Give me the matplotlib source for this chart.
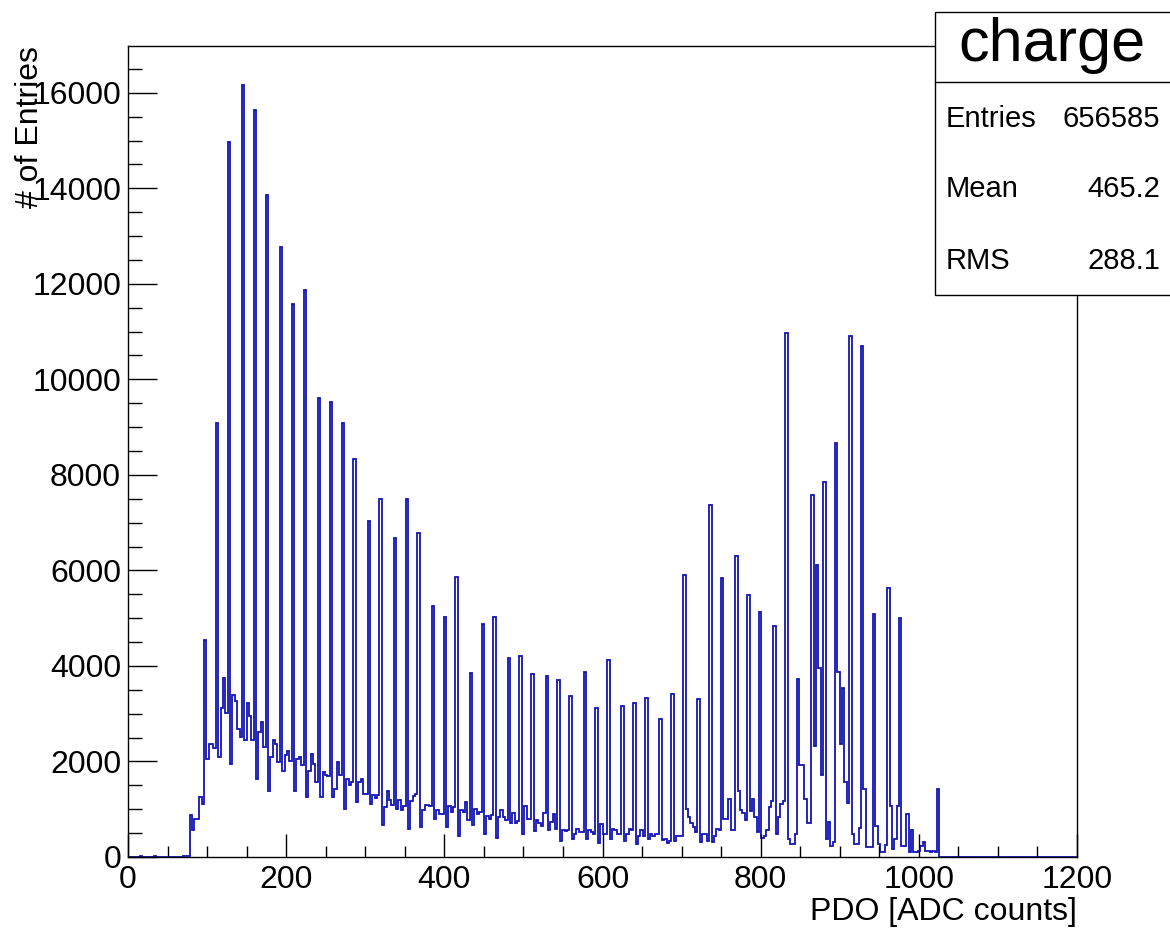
import numpy as np
import matplotlib
matplotlib.use('Agg')
import matplotlib.pyplot as plt
from matplotlib.patches import Rectangle
from matplotlib.lines import Line2D
from matplotlib.ticker import MultipleLocator

plt.rcParams['font.family'] = ['Liberation Sans', 'DejaVu Sans']

# histogram "charge": 400 bins of width 3 over 0..1200
bin_width = 3
x_min, x_max = 0, 1200
counts = [
    0, 0, 0, 0, 0, 15, 0, 0, 0, 0, 0, 25, 0, 0, 0, 0, 10, 0, 0, 0, 0, 10, 0, 20, 25, 30,
    870, 560, 790, 790, 1250, 1100,
    4550, 2050, 2360, 2360, 2290, 9090, 2090, 3130, 3740, 3020,
    14980, 1950, 3390, 3270, 2670, 2510, 16170, 2460, 3230, 2950,
    2460, 15630, 1640, 2620, 2830, 2300, 13870, 1390, 2090, 2440,
    2370, 1990, 12780, 1810, 2130, 2220, 2010, 11580, 1390, 2060,
    2090, 1920, 11870, 1250, 1810, 2150, 1950, 1570, 9600, 1250,
    1770, 1710, 1700, 9530, 1250, 1430, 1980, 1710, 9080, 1010,
    1640, 1500, 1570, 8340, 1150, 1570, 1640, 1320, 1320, 7030,
    1100, 1290, 1240, 1290, 7490, 660, 1045, 1380, 1200, 1080,
    6680, 1010, 1200, 990, 1060, 7500, 590, 1180, 1270, 1310,
    6780, 625, 990, 1080, 1080, 1060, 5260, 800, 975, 905,
    905, 5030, 625, 1060, 940, 1045, 5870, 450, 975, 940,
    1150, 765, 3850, 660, 1010, 905, 940, 4870, 486, 850,
    800, 870, 5030, 400, 835, 975, 835, 765, 4160, 710,
    920, 710, 760, 4210, 486, 1060, 800, 800, 3840, 540,
    765, 710, 645, 920, 3780, 570, 730, 905, 590, 3700,
    345, 570, 540, 555, 3370, 380, 486, 590, 520, 520,
    3875, 380, 555, 520, 486, 3130, 290, 695, 486, 486,
    4120, 380, 590, 555, 486, 486, 3155, 330, 486, 590,
    555, 3230, 275, 450, 570, 450, 3330, 380, 486, 450,
    486, 486, 2880, 360, 380, 290, 330, 3420, 330, 430,
    450, 430, 5900, 1010, 835, 710, 625, 520, 3300, 310,
    486, 486, 345, 7370, 310, 450, 590, 555, 5840, 800,
    800, 1220, 555, 555, 6300, 1380, 990, 920, 765, 5490,
    960, 1220, 835, 520, 5140, 400, 450, 555, 1040, 1170,
    4830, 486, 835, 1100, 1180, 10975, 380, 275, 275, 490,
    3720, 1935, 1935, 1210, 710, 710, 7570, 2330, 6110, 3960,
    1720, 7860, 380, 730, 240, 310, 8665, 3870, 2370, 3540,
    1570, 1140, 10900, 490, 275, 275, 600, 10700, 1415, 200,
    200, 200, 5080, 650, 275, 95, 95, 260, 5640, 1070,
    165, 380, 1070, 5000, 240, 240, 900, 95, 565, 95,
    95, 130, 240, 310, 130, 130, 100, 120, 95, 1430,
]
n_bins = (x_max - x_min) // bin_width
counts = counts + [0] * (n_bins - len(counts))  # empty bins up to 1200
edges = np.arange(x_min, x_max + bin_width, bin_width)

hist_name = 'charge'
stat_names = ['Entries', 'Mean', 'RMS']
stat_values = ['656585', '465.2', '288.1']

W, H = 1170, 931
def fx(px):
    return px / W
def fy(py):
    return 1 - py / H

fig = plt.figure(figsize=(W / 100, H / 100), dpi=100)
ax = fig.add_axes([fx(128), fy(857), (1077 - 128) / W, (857 - 46) / H])

ax.stairs(counts, edges, color='#1414b4', lw=1.3)

ax.set_xlim(x_min, x_max)
ax.set_ylim(0, 16980)
ax.xaxis.set_major_locator(MultipleLocator(200))
ax.xaxis.set_minor_locator(MultipleLocator(50))
ax.yaxis.set_major_locator(MultipleLocator(2000))
ax.yaxis.set_minor_locator(MultipleLocator(500))

ax.tick_params(which='both', direction='in', top=False, right=False,
               labelsize=23, width=1.0)
ax.tick_params(axis='x', which='major', length=16.5, pad=6)
ax.tick_params(axis='x', which='minor', length=8)
ax.tick_params(axis='y', which='major', length=21, pad=5)
ax.tick_params(axis='y', which='minor', length=10)
for sp in ax.spines.values():
    sp.set_linewidth(1.0)

fig.text(fx(1077), fy(912), 'PDO [ADC counts]', ha='right', va='center', fontsize=23)
fig.text(fx(30), fy(46), '# of Entries', rotation=90, ha='center', va='top', fontsize=23)

# stats box, runs off the right edge like the original
box = Rectangle((fx(935), fy(295)), fx(1180) - fx(935), fy(12) - fy(295),
                transform=fig.transFigure, facecolor='white', edgecolor='black',
                lw=1.0, zorder=5, clip_on=False)
fig.add_artist(box)
fig.add_artist(Line2D([fx(935), fx(1180)], [fy(82), fy(82)], transform=fig.transFigure,
                      color='black', lw=1.0, zorder=6))
fig.text(fx(1052), fy(45), hist_name, ha='center', va='center', fontsize=44, zorder=7)
rows_y = [119, 189, 261]
for name, val, ry in zip(stat_names, stat_values, rows_y):
    fig.text(fx(946), fy(ry), name, ha='left', va='center', fontsize=21, zorder=7)
    fig.text(fx(1160), fy(ry), val, ha='right', va='center', fontsize=21, zorder=7)

fig.savefig('out.png', dpi=100)
